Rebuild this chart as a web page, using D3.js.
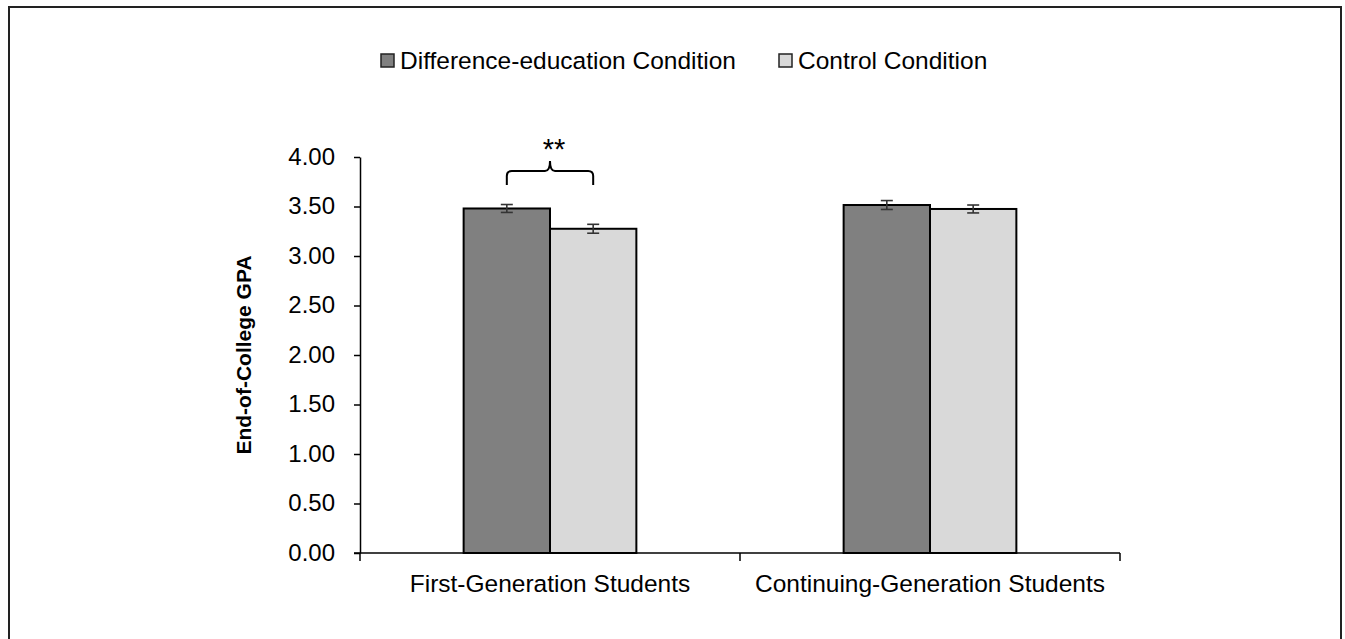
<!DOCTYPE html>
<html>
<head>
<meta charset="utf-8">
<script src="https://cdn.jsdelivr.net/npm/d3@7"></script>
<style>
  body { margin: 0; background: #fff; }
  text { font-family: "Liberation Sans", Arial, sans-serif; fill: #000; }
</style>
</head>
<body>
<svg id="chart" width="1345" height="639"></svg>
<script>
// data
const groups = ["First-Generation Students", "Continuing-Generation Students"];
const conditions = ["Difference-education Condition", "Control Condition"];
const diffEdMeans = [3.48, 3.515];
const controlMeans = [3.275, 3.475];
const diffEdErr = [0.04, 0.045];
const controlErr = [0.045, 0.04];
const yTicks = [0, 0.5, 1, 1.5, 2, 2.5, 3, 3.5, 4];
const colors = ["#808080", "#d9d9d9"];

const svg = d3.select("#chart");

// outer frame
svg.append("path")
  .attr("d", "M9,640 L9,7 L1341,7 L1341,640")
  .attr("fill", "none").attr("stroke", "#222").attr("stroke-width", 2);

const margin = {left: 360, top: 157, right: 1120, bottom: 553};

const x = d3.scaleBand().domain(groups).range([margin.left, margin.right]);
const xInner = d3.scaleBand().domain(conditions)
  .range([0, x.bandwidth()]).paddingOuter(1.2).paddingInner(0);
const y = d3.scaleLinear().domain([0, 4]).range([margin.bottom, margin.top]);

const rows = groups.map((g, i) => ({
  group: g,
  vals: [
    {cond: conditions[0], v: diffEdMeans[i], e: diffEdErr[i], c: colors[0]},
    {cond: conditions[1], v: controlMeans[i], e: controlErr[i], c: colors[1]}
  ]
}));

// bars
const gg = svg.append("g").selectAll("g").data(rows).join("g")
  .attr("transform", d => `translate(${x(d.group)},0)`);

gg.selectAll("rect").data(d => d.vals).join("rect")
  .attr("x", d => xInner(d.cond))
  .attr("y", d => y(d.v))
  .attr("width", xInner.bandwidth())
  .attr("height", d => y(0) - y(d.v))
  .attr("fill", d => d.c)
  .attr("stroke", "#000").attr("stroke-width", 2);

// error bars
const eb = gg.selectAll("g.err").data(d => d.vals).join("g")
  .attr("class", "err")
  .attr("stroke", "#333").attr("stroke-width", 1.6);
eb.append("line")
  .attr("x1", d => xInner(d.cond) + xInner.bandwidth() / 2)
  .attr("x2", d => xInner(d.cond) + xInner.bandwidth() / 2)
  .attr("y1", d => y(d.v + d.e)).attr("y2", d => y(d.v - d.e));
eb.selectAll("line.cap").data(d => [[d, d.v + d.e], [d, d.v - d.e]]).join("line")
  .attr("class", "cap")
  .attr("x1", d => xInner(d[0].cond) + xInner.bandwidth() / 2 - 6)
  .attr("x2", d => xInner(d[0].cond) + xInner.bandwidth() / 2 + 6)
  .attr("y1", d => y(d[1])).attr("y2", d => y(d[1]));

// y axis
const yAxis = svg.append("g")
  .attr("transform", `translate(${margin.left},0)`)
  .call(d3.axisLeft(y).tickValues(yTicks).tickFormat(d3.format(".2f")).tickSize(6).tickSizeOuter(0));
yAxis.select(".domain").attr("stroke", "#000").attr("stroke-width", 1.5);
yAxis.selectAll(".tick line").attr("stroke", "#000").attr("stroke-width", 1.5);
yAxis.selectAll(".tick text")
  .attr("x", -25).attr("dy", "0.3em")
  .style("font-size", "24px").style("font-family", "Liberation Sans, Arial, sans-serif").attr("fill", "#000");

// x axis with ticks at band boundaries
const xAxis = svg.append("g").attr("transform", `translate(0,${y(0)})`);
xAxis.append("line")
  .attr("x1", margin.left - 6).attr("x2", margin.right)
  .attr("stroke", "#000").attr("stroke-width", 1.5);
const bounds = groups.map(g => x(g)).concat([x(groups[groups.length - 1]) + x.bandwidth()]);
xAxis.selectAll("line.tk").data(bounds).join("line")
  .attr("class", "tk")
  .attr("x1", d => d).attr("x2", d => d).attr("y1", 0).attr("y2", 8)
  .attr("stroke", "#000").attr("stroke-width", 1.5);
xAxis.selectAll("text").data(groups).join("text")
  .attr("x", d => x(d) + x.bandwidth() / 2)
  .attr("y", 39)
  .attr("text-anchor", "middle")
  .style("font-size", "24.5px")
  .text(d => d);

// y axis title
svg.append("text")
  .attr("transform", `translate(251,${(margin.top + margin.bottom) / 2}) rotate(-90)`)
  .attr("text-anchor", "middle")
  .style("font-size", "21px").style("font-weight", "bold")
  .text("End-of-College GPA");

// significance brace
const g0 = rows[0];
const bx1 = x(g0.group) + xInner(conditions[0]) + xInner.bandwidth() / 2;
const bx2 = x(g0.group) + xInner(conditions[1]) + xInner.bandwidth() / 2;
const bm = (bx1 + bx2) / 2;
const by = 171, bBot = 185, bTip = 161, r = 5;
svg.append("path")
  .attr("d", `M${bx1},${bBot} L${bx1},${by + r} Q${bx1},${by} ${bx1 + r},${by}
              L${bm - r},${by} Q${bm},${by} ${bm},${bTip}
              Q${bm},${by} ${bm + r},${by} L${bx2 - r},${by}
              Q${bx2},${by} ${bx2},${by + r} L${bx2},${bBot}`)
  .attr("fill", "none").attr("stroke", "#000").attr("stroke-width", 2);
svg.append("text")
  .attr("x", bm + 4).attr("y", 159)
  .attr("text-anchor", "middle")
  .style("font-size", "29px")
  .text("**");

// legend
const legendX = [381, 779];
const lg = svg.append("g").selectAll("g").data(conditions).join("g")
  .attr("transform", (d, i) => `translate(${legendX[i]},60)`);
lg.append("rect")
  .attr("x", 0).attr("y", -6).attr("width", 13).attr("height", 13)
  .attr("fill", (d, i) => colors[i])
  .attr("stroke", "#222").attr("stroke-width", 1.5);
lg.append("text")
  .attr("x", 19).attr("y", 0).attr("dy", "0.35em")
  .style("font-size", "24.5px")
  .text(d => d);
</script>
</body>
</html>
